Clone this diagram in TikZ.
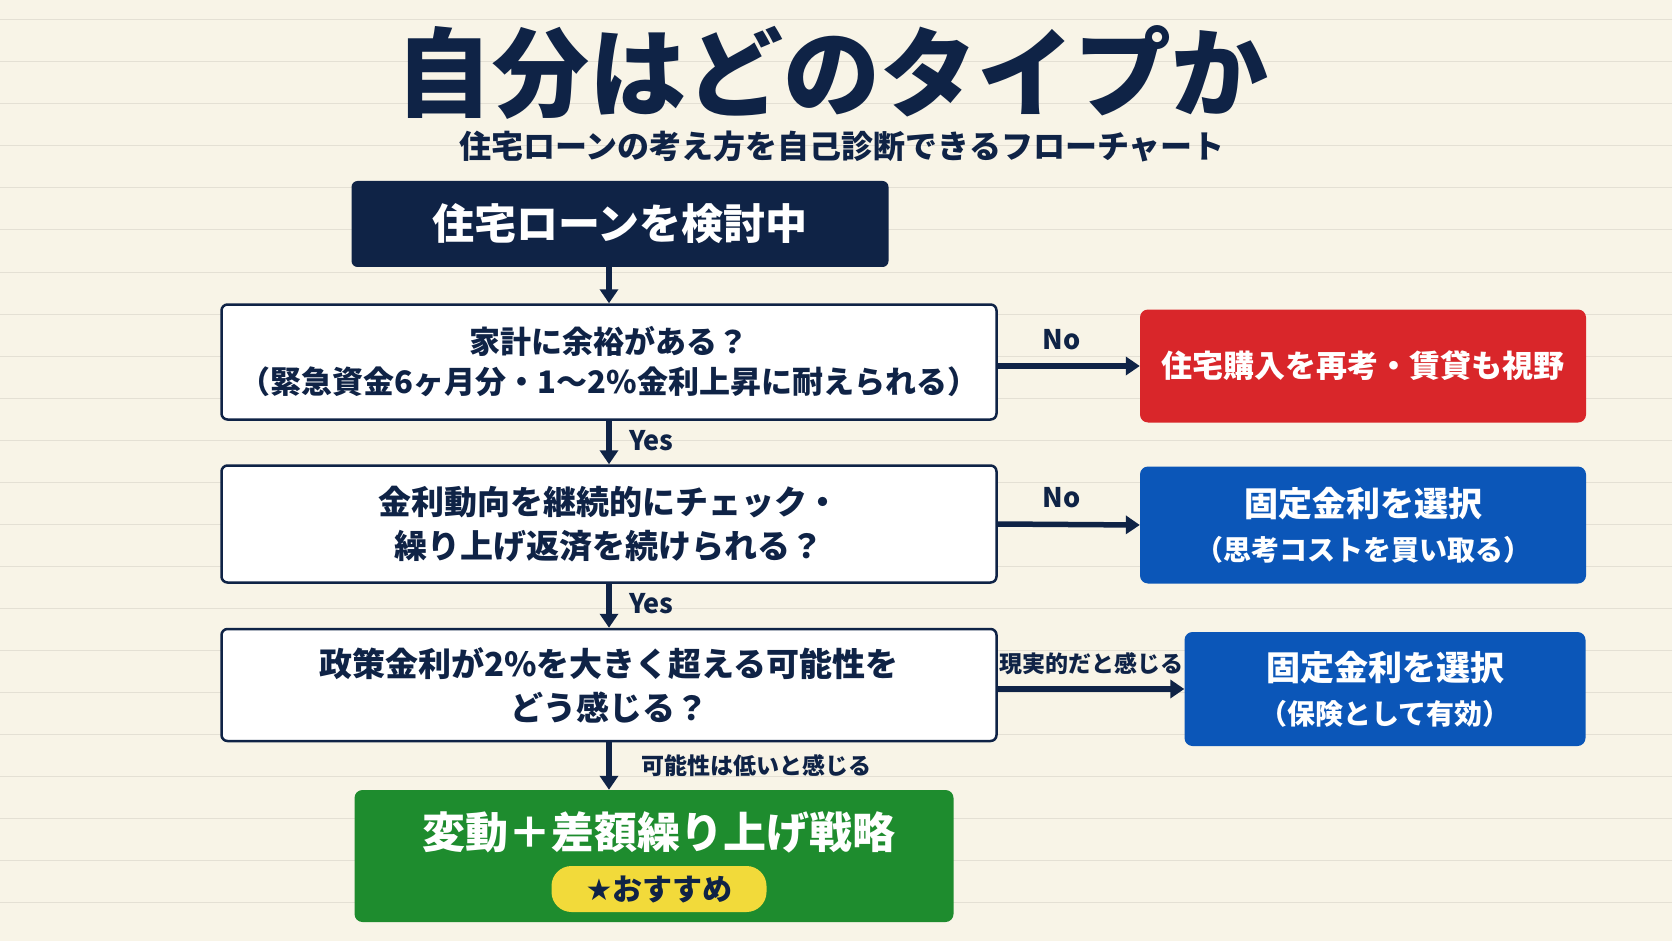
\documentclass[tikz,border=0pt]{standalone}
\usepackage{fontspec}
\setmainfont{Noto Sans CJK JP}
\newfontfamily\symf{DejaVu Sans}
\usetikzlibrary{arrows.meta}
\definecolor{navy}{HTML}{0F2346}
\definecolor{paper}{HTML}{F8F4E7}
\definecolor{rline}{HTML}{E4E0D4}
\definecolor{rred}{HTML}{D9262A}
\definecolor{rblue}{HTML}{0B56B8}
\definecolor{rgreen}{HTML}{1E8C2E}
\definecolor{ryel}{HTML}{F2DA3A}
\tikzset{
 qbox/.style={draw=navy,line width=2.5pt,fill=white,rounded corners=6pt,align=center,font=\fontsize{31}{40}\selectfont\bfseries,text=navy},
 rbox/.style={rounded corners=8pt,align=center,text=white,font=\fontsize{31}{40}\selectfont\bfseries},
 arr/.style={-{Triangle[length=14pt,width=18pt]},line width=5.5pt,draw=navy},
 lab/.style={font=\fontsize{27}{30}\selectfont\bfseries,text=navy},
 slab/.style={font=\fontsize{23}{26}\selectfont\bfseries,text=navy}
}
\begin{document}
\begin{tikzpicture}[x=1pt,y=-1pt]
\fill[paper] (0,0) rectangle (1672,941);
\useasboundingbox (0,0) rectangle (1672,941);
\foreach \y in {20,62,104,146,188,230,272,314,356,398,440,482,524,566,608,650,692,734,776,818,860,902}
  \draw[rline,line width=1pt] (0,\y) -- (1672,\y);
\node[font=\fontsize{97}{104}\selectfont\bfseries,text=navy] (title) at (832,72) {自分はどのタイプか};
\node[font=\fontsize{32}{36}\selectfont\bfseries,text=navy] (sub) at (842,147) {住宅ローンの考え方を自己診断できるフローチャート};
\node[fill=navy,rounded corners=6pt,text=white,font=\fontsize{42}{48}\selectfont\bfseries,minimum width=537pt,minimum height=86pt] (start) at (620,224) {住宅ローンを検討中};
\node[qbox,minimum width=775pt,minimum height=115pt] (q1) at (609,362) {家計に余裕がある？\\（緊急資金6ヶ月分・1〜2\%金利上昇に耐えられる）};
\node[qbox,minimum width=775pt,minimum height=117pt,font=\fontsize{33}{44}\selectfont\bfseries] (q2) at (609,524) {金利動向を継続的にチェック・\\繰り上げ返済を続けられる？};
\node[qbox,minimum width=775pt,minimum height=112pt,font=\fontsize{33}{44}\selectfont\bfseries] (q3) at (609,685) {政策金利が2\%を大きく超える可能性を\\どう感じる？};
\node[rbox,fill=rred,minimum width=446pt,minimum height=113pt] (r1) at (1363,366) {住宅購入を再考・賃貸も視野};
\node[rbox,fill=rblue,minimum width=446pt,minimum height=117pt,font=\fontsize{34}{44}\selectfont\bfseries] (r2) at (1363,525) {固定金利を選択\\{\fontsize{28}{36}\selectfont（思考コストを買い取る）}};
\node[rbox,fill=rblue,minimum width=401pt,minimum height=114pt,font=\fontsize{34}{44}\selectfont\bfseries] (r3) at (1385,689) {固定金利を選択\\{\fontsize{28}{36}\selectfont（保険として有効）}};
\node[rounded corners=8pt,fill=rgreen,minimum width=599pt,minimum height=132pt] (fin) at (654,856) {};
\node[text=white,font=\fontsize{43}{48}\selectfont\bfseries] (fint) at (659,832) {変動＋差額繰り上げ戦略};
\node[fill=ryel,rounded corners=20pt,minimum width=215pt,minimum height=46pt,text=navy,font=\fontsize{30}{32}\selectfont\bfseries] (badge) at (659,889) {{\symf\fontsize{30}{32}\selectfont ★}おすすめ};
\draw[arr] (start.south -| q1.north) -- (q1.north);
\draw[arr] (q1.south) -- node[lab,right=14pt,pos=0.45]{Yes} (q2.north);
\draw[arr] (q2.south) -- node[lab,right=14pt,pos=0.45]{Yes} (q3.north);
\draw[arr] (q3.south) -- node[slab,right=26pt,pos=0.5]{可能性は低いと感じる} (fin.north -| q3.south);
\draw[arr] (q1.east |- r1.west) -- node[lab,above=10pt,pos=0.45]{No} (r1.west);
\draw[arr] (q2.east) -- node[lab,above=10pt,pos=0.45]{No} (r2.west);
\draw[arr] (q3.east |- r3.west) -- node[slab,above=8pt,pos=0.5]{現実的だと感じる} (r3.west);
\end{tikzpicture}
\end{document}
